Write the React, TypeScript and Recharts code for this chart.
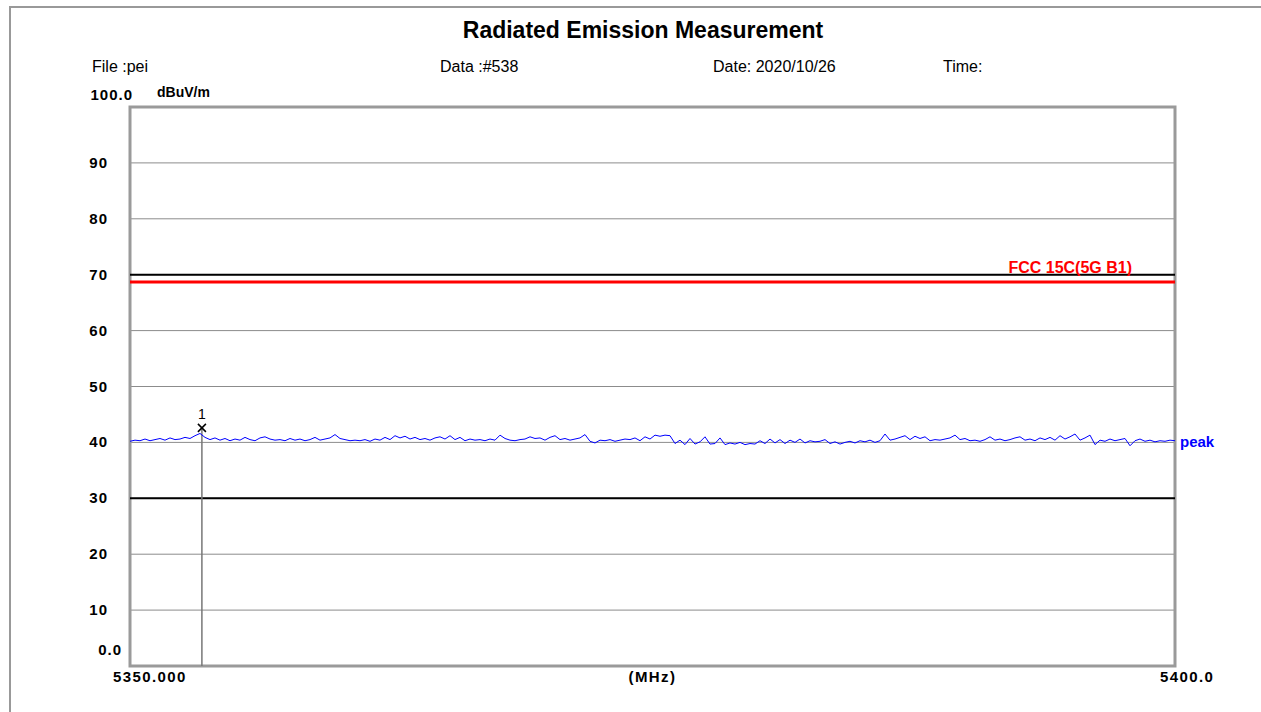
import React from 'react';
import {
  ComposedChart,
  Line,
  XAxis,
  YAxis,
  CartesianGrid,
  ReferenceLine,
  ReferenceDot,
  ReferenceArea
} from 'recharts';

// sweep settings (MHz)
const START_FREQ = 5350;
const STOP_FREQ = 5400;

// peak detector trace, dBuV/m (evenly spaced over the sweep)
const peakLevels = [
  40.2, 40.4, 40.3, 40.6, 40.3, 40.5, 40.7, 40.4, 40.8, 40.5,
  40.6, 40.9, 40.7, 41.2, 41.6, 40.9, 40.5, 40.8, 40.4, 40.7,
  40.3, 40.6, 40.4, 40.9, 40.5, 40.3, 40.8, 41.0, 40.6, 40.4,
  40.5, 40.3, 40.7, 40.4, 40.6, 40.3, 40.5, 40.9, 40.4, 40.6,
  40.8, 41.4, 40.7, 40.5, 40.3, 40.4, 40.3, 40.5, 40.2, 40.6,
  40.4, 40.9, 40.5, 41.2, 40.8, 41.1, 40.6, 40.9, 40.5, 40.7,
  40.4, 40.8, 41.0, 40.6, 41.2, 40.5, 40.9, 40.3, 40.6, 40.4,
  40.5, 40.3, 40.6, 40.4, 41.3, 40.7, 40.4, 40.3, 40.5, 40.6,
  41.0, 40.7, 40.8, 40.4, 40.9, 41.2, 40.5, 40.7, 40.4, 40.6,
  40.8, 41.4, 40.2, 39.9, 40.4, 40.3, 40.5, 40.2, 40.4, 40.6,
  40.5, 40.8, 40.3, 41.0, 40.6, 41.3, 41.1, 41.3, 41.2, 39.8,
  40.4, 39.6, 40.7, 39.7, 40.1, 41.0, 39.7, 39.8, 40.8, 39.6,
  39.9, 39.7, 40.0, 39.6, 39.8, 39.7, 40.3, 39.8, 40.6, 39.9,
  40.5, 39.8, 40.4, 40.0, 40.6, 39.9, 40.3, 40.1, 40.2, 40.5,
  39.8, 40.1, 39.7, 40.0, 40.2, 39.9, 40.3, 40.1, 40.4, 40.0,
  40.3, 41.5, 40.4, 40.6, 40.9, 41.2, 40.5, 41.1, 40.7, 41.0,
  40.3, 40.5, 40.4, 40.6, 40.8, 41.3, 40.5, 40.7, 40.3, 40.4,
  40.2, 40.5, 41.0, 40.4, 40.6, 40.3, 40.5, 40.8, 41.0, 40.4,
  40.6, 40.3, 40.8, 40.5, 40.9, 40.4, 41.2, 40.6, 41.0, 41.5,
  40.4, 40.8, 41.3, 39.6, 40.4, 40.2, 40.6, 40.3, 40.5, 40.7,
  39.4, 40.3, 40.6, 40.2, 40.4, 40.1, 40.3, 40.2, 40.4, 40.3
];

const yTicks = [0, 10, 20, 30, 40, 50, 60, 70, 80, 90, 100];
const xTicks = [5350, 5375, 5400];
const xTickLabels = ['5350.000', '(MHz)', '5400.0'];

// limit line and the heavy reference lines
const limitLevel = 68.7;
const limitName = 'FCC 15C(5G B1)';
const boldLines = [70, 30];

// marker #1
const markerFreq = 5353.44;
const markerLevel = 42.6;

const headerItems = [
  { text: 'File :pei', left: 92 },
  { text: 'Data :#538', left: 440 },
  { text: 'Date: 2020/10/26', left: 713 },
  { text: 'Time:', left: 943 }
];

const step = (STOP_FREQ - START_FREQ) / (peakLevels.length - 1);
const traceData = peakLevels.map((level, i) => ({
  freq: START_FREQ + i * step,
  level
}));

const FONT = '"Liberation Sans", Arial, sans-serif';

const YTick = ({ x, y, payload }: any) => {
  const v = payload.value;
  let label = String(v);
  let dx = -22;
  let dy = 5;
  if (v === 100) {
    label = '100.0';
    dx = 3;
    dy = -7;
  } else if (v === 0) {
    label = '0.0';
    dx = -8;
    dy = -11;
  }
  return (
    <text x={x + dx} y={y + dy} textAnchor="end" fontFamily={FONT} fontWeight="bold" fontSize={15} letterSpacing={1} fill="#000">
      {label}
    </text>
  );
};

const XTick = ({ x, y, payload }: any) => {
  const idx = xTicks.indexOf(payload.value);
  const label = xTickLabels[idx];
  let anchor = 'middle';
  let dx = 0;
  if (idx === 0) {
    anchor = 'start';
    dx = -17;
  } else if (idx === 2) {
    anchor = 'start';
    dx = -15;
  }
  return (
    <text x={x + dx} y={y + 16} textAnchor={anchor} fontFamily={FONT} fontWeight="bold" fontSize={15} letterSpacing={1.4} fill="#000">
      {label}
    </text>
  );
};

const MarkerShape = ({ cx, cy }: any) => (
  <g>
    <line x1={cx - 4} y1={cy - 4} x2={cx + 4} y2={cy + 4} stroke="#000" strokeWidth={1.5} />
    <line x1={cx - 4} y1={cy + 4} x2={cx + 4} y2={cy - 4} stroke="#000" strokeWidth={1.5} />
    <text x={cx} y={cy - 9} textAnchor="middle" fontFamily={FONT} fontSize={14} fill="#000">1</text>
  </g>
);

const PeakLabel = ({ cx, cy }: any) => (
  <text x={cx + 5} y={cy + 5} fontFamily={FONT} fontWeight="bold" fontSize={15} fill="#0000ff">peak</text>
);

const LimitLabel = ({ viewBox }: any) => (
  <text
    x={viewBox.x + viewBox.width - 43}
    y={viewBox.y - 9}
    textAnchor="end"
    fontFamily={FONT}
    fontWeight="bold"
    fontSize={16}
    fill="#ff0000"
  >
    {limitName}
  </text>
);

export default function App() {
  return (
    <div style={{ position: 'absolute', left: 0, top: 0, width: 1261, height: 712, background: '#fff', fontFamily: FONT }}>
      <div style={{ position: 'absolute', left: 9, top: 6, width: 1300, height: 800, borderLeft: '2px solid #999', borderTop: '2px solid #999' }} />
      <div style={{ position: 'absolute', left: 0, width: 1286, top: 17, textAlign: 'center', fontSize: 23, fontWeight: 'bold', lineHeight: '26px' }}>
        Radiated Emission Measurement
      </div>
      {headerItems.map((h) => (
        <div key={h.text} style={{ position: 'absolute', left: h.left, top: 57, fontSize: 16, lineHeight: '20px', whiteSpace: 'nowrap' }}>
          {h.text}
        </div>
      ))}
      <div style={{ position: 'absolute', left: 157, top: 84, fontSize: 14, fontWeight: 'bold', lineHeight: '16px' }}>dBuV/m</div>
      <div style={{ position: 'absolute', left: 0, top: 0 }}>
        <ComposedChart width={1261} height={712} data={traceData} margin={{ top: 107, right: 86, bottom: 16, left: 90 }}>
          <CartesianGrid vertical={false} stroke="#8c8c8c" strokeWidth={1} />
          <XAxis
            dataKey="freq"
            type="number"
            domain={[START_FREQ, STOP_FREQ]}
            ticks={xTicks}
            tick={<XTick />}
            tickSize={0}
            tickMargin={0}
            axisLine={false}
            tickLine={false}
            height={30}
            interval={0}
          />
          <YAxis
            type="number"
            domain={[0, 100]}
            ticks={yTicks}
            tick={<YTick />}
            tickSize={0}
            tickMargin={0}
            axisLine={false}
            tickLine={false}
            width={40}
            interval={0}
          />
          {boldLines.map((v) => (
            <ReferenceLine key={v} y={v} stroke="#000" strokeWidth={2} />
          ))}
          <ReferenceLine y={limitLevel} stroke="#ff0000" strokeWidth={3} label={<LimitLabel />} />
          <ReferenceLine
            segment={[{ x: markerFreq, y: 0 }, { x: markerFreq, y: markerLevel }]}
            stroke="#777"
            strokeWidth={1.5}
          />
          <ReferenceArea
            x1={START_FREQ}
            x2={STOP_FREQ}
            y1={0}
            y2={100}
            fill="none"
            stroke="#9a9a9a"
            strokeWidth={3}
          />
          <Line
            dataKey="level"
            type="linear"
            stroke="#0000ff"
            strokeWidth={1}
            dot={false}
            isAnimationActive={false}
          />
          <ReferenceDot x={markerFreq} y={markerLevel} shape={<MarkerShape />} />
          <ReferenceDot x={STOP_FREQ} y={40} shape={<PeakLabel />} />
        </ComposedChart>
      </div>
    </div>
  );
}
